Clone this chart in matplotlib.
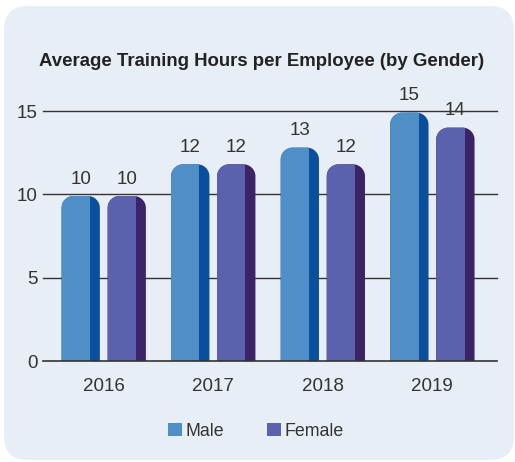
import numpy as np
import matplotlib
matplotlib.use("Agg")
import matplotlib.pyplot as plt
from matplotlib.patches import FancyBboxPatch, Polygon, Rectangle, Patch

plt.rcParams['font.family'] = ['Liberation Sans', 'DejaVu Sans']

# data
years = ['2016', '2017', '2018', '2019']
male = [9.9, 11.8, 12.8, 14.9]
female = [9.9, 11.8, 11.8, 14.0]
yticks = [0, 5, 10, 15]

male_c, male_side = '#4f8fc6', '#0a4f9b'
fem_c, fem_side = '#5b61ac', '#3a2466'
txt = '#333333'

W, H = 515, 462
fig = plt.figure(figsize=(W / 100, H / 100), dpi=100)
fig.patch.set_facecolor('white')

# rounded panel behind everything
bg = fig.add_axes([0, 0, 1, 1], zorder=-5)
bg.set_xlim(0, W)
bg.set_ylim(0, H)
bg.axis('off')
bg.add_patch(FancyBboxPatch((4, 2), W - 5, H - 8,
                            boxstyle="round,pad=0,rounding_size=24",
                            fc='#e7eef6', ec='none'))

# axes in pixel positions
left, right, bottom, top = 43, 497, H - 361, H - 111
ax = fig.add_axes([left / W, bottom / H, (right - left) / W, (top - bottom) / H])
ax.set_facecolor('none')
ax.set_xlim(-0.554, 3.59)
ax.set_ylim(0, 15)
for s in ax.spines.values():
    s.set_visible(False)

for t in yticks[1:]:
    ax.axhline(t, color='#333333', lw=1.0, zorder=0, clip_on=False)
ax.axhline(0, color='#333333', lw=1.2, zorder=5, clip_on=False)

w = 0.35
off = 0.21
side_frac = 0.26
px_x = (right - left) / (3.59 + 0.554)
px_y = (top - bottom) / 15.0
r_px = 12
rx = r_px / px_x
ry = r_px / px_y
th = np.linspace(0, np.pi / 2, 24)


def bar_outline(x0, x1, h):
    # left side up, round top-left, flat top, round top-right, right side down
    lx = x0 + rx - rx * np.cos(th)
    ly = h - ry + ry * np.sin(th)
    rxs = x1 - rx + rx * np.cos(th[::-1])
    rys = h - ry + ry * np.sin(th[::-1])
    xs = np.concatenate([[x0], lx, rxs, [x1]])
    ys = np.concatenate([[0], ly, rys, [0]])
    return np.column_stack([xs, ys])


def draw_bar(x, h, front, side):
    x0 = x - w / 2
    body = Polygon(bar_outline(x0, x0 + w, h), closed=True, fc=side, ec='none', zorder=2)
    ax.add_patch(body)
    face = Rectangle((x0, 0), w * (1 - side_frac), h + 1, fc=front, ec='none', zorder=3)
    ax.add_patch(face)
    face.set_clip_path(body)
    ax.annotate(f'{h:.0f}', (x, h), xytext=(0, 6), textcoords='offset points',
                ha='center', va='bottom', fontsize=13.5, color=txt)


for i in range(len(years)):
    draw_bar(i - off, male[i], male_c, male_side)
    draw_bar(i + off, female[i], fem_c, fem_side)

ax.set_xticks(range(len(years)))
ax.set_xticklabels(years)
ax.set_yticks(yticks)
ax.tick_params(axis='both', length=0, labelsize=13.5, labelcolor=txt)
ax.tick_params(axis='x', pad=12.5)
ax.tick_params(axis='y', pad=4)

fig.text(262 / W, 1 - 62 / H, 'Average Training Hours per Employee (by Gender)',
         ha='center', va='center', fontsize=13.4, fontweight='bold', color='#222222')

handles = [Patch(fc=male_c, ec='none', label='Male'),
           Patch(fc=fem_c, ec='none', label='Female')]
fig.legend(handles=handles, loc='center', bbox_to_anchor=(256 / W, 31 / H), ncol=2,
           frameon=False, fontsize=12.8, handlelength=0.8, handleheight=0.8,
           handletextpad=0.2, columnspacing=2.4, labelcolor=txt)

fig.savefig('out.png', dpi=100)
